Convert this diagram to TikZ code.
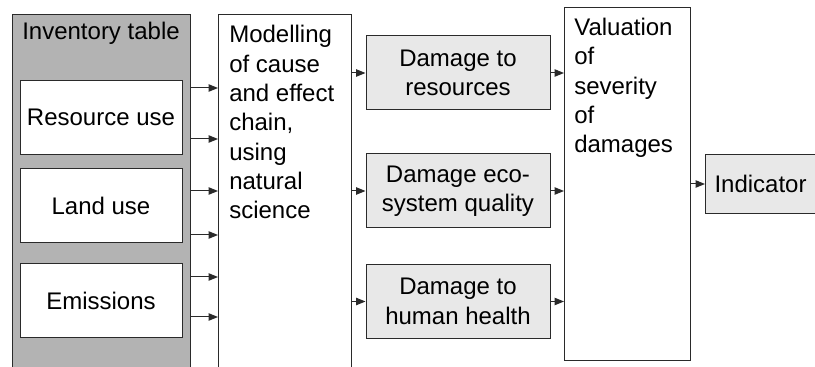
\documentclass[tikz,border=0pt]{standalone}
\usepackage{fontspec}
\setmainfont{Liberation Sans}
\usetikzlibrary{arrows.meta,positioning}
\definecolor{lcaline}{HTML}{2A2A2A}
\definecolor{lcagray}{HTML}{B3B3B3}
\definecolor{lcalight}{HTML}{E8E8E8}

\begin{document}
\begin{tikzpicture}[x=0.75pt,y=-0.75pt, every node/.style={font=\fontsize{18pt}{22pt}\selectfont},
 panel/.style={draw=lcaline,line width=0.75pt,anchor=north west,minimum width=#1,inner sep=0pt},
 inbox/.style={draw=lcaline,line width=0.75pt,fill=white,minimum width=121.5pt,minimum height=55.5pt,align=center},
 dmg/.style={draw=lcaline,line width=0.75pt,fill=lcalight,minimum width=138pt,minimum height=55.5pt,align=center,inner sep=0pt},
 txt/.style={anchor=base west,inner sep=0pt,align=left},
 arr/.style={-{Triangle[length=7pt,width=5.5pt]},line width=0.75pt,draw=lcaline}]
\useasboundingbox (0,0) rectangle (815,367);
\clip (0,0) rectangle (815,367);
\node[panel=133.5pt,fill=lcagray,minimum height=277.5pt] (inv) at (12,14) {};
\node (invtitle) at (101,33) {Inventory table};
\node[inbox] (res) at (101,117.5) {Resource use};
\node[inbox] (land) at (101,205.5) {Land use};
\node[inbox] (emis) at (101,301) {Emissions};
\node[panel=99.75pt,fill=white,minimum height=277.5pt] (model) at (218,14) {};
% base of a multi-line node is its last line
\node[txt] (modeltxt) at (229,219) {Modelling\\of cause\\and effect\\chain,\\using\\natural\\science};
\node[dmg] (dres) at (458,73) {Damage to\\resources};
\node[dmg] (deco) at (458,191) {Damage eco-\\system quality};
\node[dmg] (dhum) at (458,301.5) {Damage to\\human health};
\node[panel=94.5pt,fill=white,minimum height=264.75pt] (val) at (564,7) {};
\node[txt] (valtxt) at (574,153) {Valuation\\of\\severity\\of\\damages};
\node[draw=lcaline,line width=0.75pt,fill=lcalight,anchor=west,minimum height=44.25pt,inner xsep=6.75pt,inner ysep=0pt] (ind) at (705,184) {Indicator};
\foreach \y in {88,139,191,235,277,317} \draw[arr] (inv.east |- 0,\y) -- (model.west |- 0,\y);
\foreach \d in {dres,deco,dhum} {
 \draw[arr] (model.east |- \d.west) -- (\d.west);
 \draw[arr] (\d.east) -- (val.west |- \d.east);
}
\draw[arr] (val.east |- ind.west) -- (ind.west);
\end{tikzpicture}
\end{document}
